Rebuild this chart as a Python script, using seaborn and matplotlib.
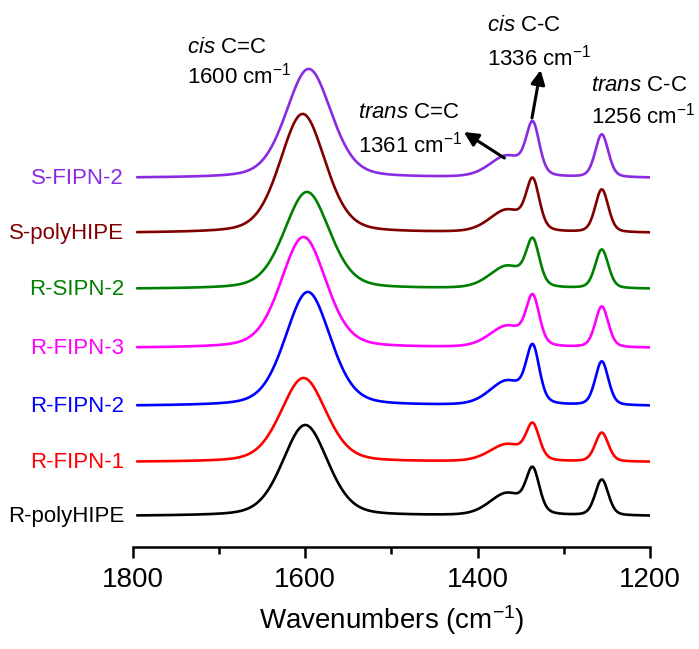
import numpy as np
import pandas as pd
import matplotlib
matplotlib.use("Agg")
import matplotlib.pyplot as plt
import seaborn as sns

# samples from bottom to top of the stack
samples = ["R-polyHIPE", "R-FIPN-1", "R-FIPN-2", "R-FIPN-3", "R-SIPN-2", "S-polyHIPE", "S-FIPN-2"]
colors = ["#000000", "#ff0000", "#0000ff", "#ff00ff", "#008000", "#800000", "#8a2be2"]
offsets = [0, 54, 110, 168, 227, 283, 338]

# band centres (cm-1) and heights
cis_cc_pos = [1600, 1602, 1597, 1602, 1598, 1603, 1596]
cis_cc_h = [91, 84, 114, 111, 97, 119, 109]
trans_cc_h = [22, 17, 24, 21, 22, 22, 21]     # 1361 shoulder
cis_c_c_h = [41, 33, 53, 46, 43, 47, 49]      # 1336
trans_c_c_h = [36, 29, 44, 41, 39, 43, 43]    # 1256

band_pos = [1366, 1336, 1256]
band_fwhm = [62, 48, 18, 18]

wn = np.arange(1795, 1199, -1.0)


def band(x, c, h, fwhm):
    s = fwhm / 2.3548
    g = np.exp(-(x - c) ** 2 / (2 * s ** 2))
    l = 1 / (1 + ((x - c) / (fwhm / 2)) ** 2)
    return h * (0.7 * g + 0.3 * l)


frames = []
for i, name in enumerate(samples):
    y = (band(wn, cis_cc_pos[i], cis_cc_h[i], band_fwhm[0])
         + band(wn, band_pos[0], trans_cc_h[i], band_fwhm[1])
         + band(wn, band_pos[1], cis_c_c_h[i], band_fwhm[2])
         + band(wn, band_pos[2], trans_c_c_h[i], band_fwhm[3])
         + offsets[i])
    frames.append(pd.DataFrame({"wn": wn, "I": y, "sample": name}))
df = pd.concat(frames)

sns.set_theme(style="ticks")
plt.rcParams["font.family"] = ["Liberation Sans", "DejaVu Sans"]
plt.rcParams["mathtext.fontset"] = "custom"
plt.rcParams["mathtext.rm"] = "Liberation Sans"
plt.rcParams["mathtext.it"] = "Liberation Sans:italic"
plt.rcParams["text.color"] = "black"
plt.rcParams["axes.labelcolor"] = "black"
plt.rcParams["xtick.color"] = "black"

fig = plt.figure(figsize=(6.99, 6.49), dpi=100)
ax = fig.add_axes([0.19, 0.157, 0.74, 0.843])
sns.lineplot(data=df, x="wn", y="I", hue="sample", palette=dict(zip(samples, colors)),
             linewidth=1.9, legend=False, ax=ax, estimator=None, sort=False)

ax.set_xlim(1800, 1200)
ax.set_ylim(-31, 516)
ax.set_xticks([1800, 1600, 1400, 1200])
ax.set_xticks([1700, 1500, 1300], minor=True)
ax.set_yticks([])
ax.tick_params(axis="x", which="major", length=8, width=1.8, labelsize=20, pad=6)
ax.tick_params(axis="x", which="minor", length=5, width=1.8)
sns.despine(ax=ax, left=True)
ax.spines["bottom"].set_linewidth(1.8)
ax.spines["bottom"].set_color("black")
ax.set_ylabel("")
ax.set_xlabel("Wavenumbers (cm$^{-1}$)", fontsize=20, labelpad=8)

for i, name in enumerate(samples):
    ax.text(1810, offsets[i], name, color=colors[i], fontsize=16, ha="right", va="center",
            clip_on=False)

fs = 16
ax.text(1737, 469, r"$\mathit{cis}$ C=C", fontsize=fs, va="center")
ax.text(1737, 440, "1600 cm$^{-1}$", fontsize=fs, va="center")
ax.text(1539, 404, r"$\mathit{trans}$ C=C", fontsize=fs, va="center")
ax.text(1539, 371, "1361 cm$^{-1}$", fontsize=fs, va="center")
ax.text(1389, 491, r"$\mathit{cis}$ C-C", fontsize=fs, va="center")
ax.text(1389, 458, "1336 cm$^{-1}$", fontsize=fs, va="center")
ax.text(1268, 431, r"$\mathit{trans}$ C-C", fontsize=fs, va="center")
ax.text(1268, 400, "1256 cm$^{-1}$", fontsize=fs, va="center")

arrow = dict(arrowstyle="-|>,head_length=0.7,head_width=0.35", color="black", lw=2.2,
             shrinkA=0, shrinkB=0)
ax.annotate("", xy=(1416, 384), xytext=(1369, 358), arrowprops=arrow)
ax.annotate("", xy=(1327, 446), xytext=(1337, 398), arrowprops=arrow)

fig.savefig("out.png", dpi=100)
